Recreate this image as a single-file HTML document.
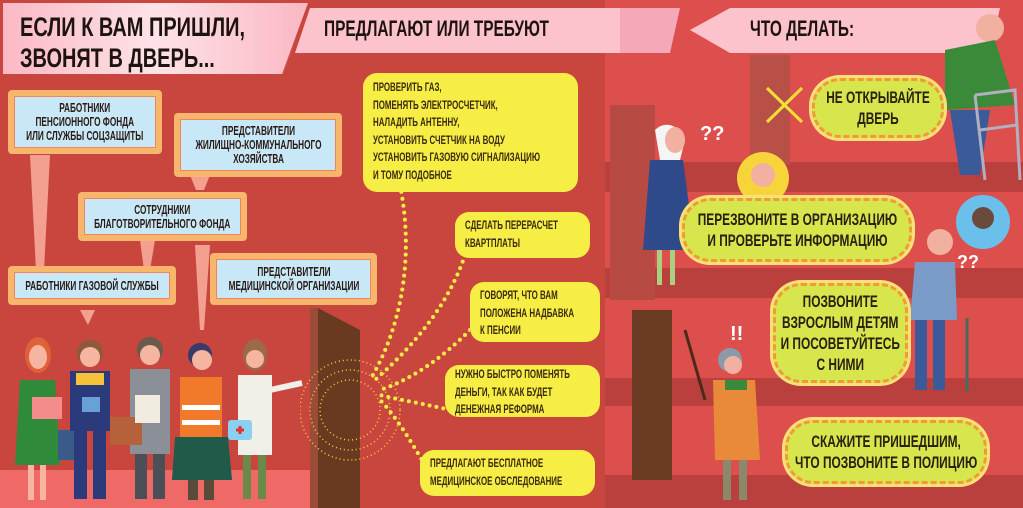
<!DOCTYPE html>
<html><head><meta charset="utf-8"><style>
*{margin:0;padding:0;box-sizing:border-box}
body{width:1023px;height:508px;overflow:hidden;background:#c9463f;position:relative;font-family:"Liberation Sans",sans-serif;font-weight:bold;color:#2a1a14}
.a{position:absolute}
.t{display:inline-block;white-space:nowrap;transform:scaleX(.66)}
.c{transform-origin:center}
.l{transform-origin:left}
.frame{position:absolute;background:#f8b56c;border-radius:4px;padding:6px}
.frame .in{background:#c8e8f8;border:1px solid #f0845a;height:100%;display:flex;align-items:center;justify-content:center;text-align:center;font-size:12.5px;line-height:14px;color:#2a1a14;font-weight:bold}
.yb{position:absolute;background:#f7ee45;border-radius:14px;font-size:12px;line-height:17.5px;padding:6px 10px;color:#3a2a10;font-weight:bold}
.sp{position:absolute;background:#d6e64c;border:3px dashed #f29a3a;border-radius:28px;display:flex;align-items:center;justify-content:center;text-align:center;font-size:17px;line-height:21px;color:#2a2010;box-shadow:0 0 0 3px #fbe07a;font-weight:bold}
.sp .t{transform:scaleX(.7)}
</style></head><body>
<div class="a" style="left:605px;top:0;width:418px;height:508px;background:#dc4f4c"></div>
<div class="a" style="left:605px;top:162px;width:418px;height:30px;background:#b9403d"></div>
<div class="a" style="left:605px;top:268px;width:418px;height:30px;background:#b9403d"></div>
<div class="a" style="left:605px;top:378px;width:418px;height:28px;background:#b9403d"></div>
<div class="a" style="left:605px;top:475px;width:418px;height:33px;background:#b9403d"></div>
<div class="a" style="left:750px;top:55px;width:40px;height:110px;background:#b85048"></div>
<div class="a" style="left:610px;top:105px;width:45px;height:195px;background:#b84a44"></div>
<div class="a" style="left:632px;top:310px;width:40px;height:170px;background:#6b3a22"></div>
<div class="a" style="left:0;top:470px;width:310px;height:38px;background:#ef6a66"></div>
<svg class="a" style="left:300px;top:300px" width="110" height="208"><polygon points="18,8 60,30 60,208 18,208" fill="#6a3a20"/><polygon points="10,8 18,8 18,208 10,208" fill="#9a4c38"/>
<g stroke="#f5d23a" stroke-width="1.5" stroke-dasharray="1 3" fill="none"><circle cx="50" cy="110" r="30"/><circle cx="50" cy="110" r="40"/><circle cx="50" cy="110" r="50"/></g></svg>
<svg class="a" style="left:0;top:0" width="1023" height="80"><polygon points="3,3 308,3 282,74 3,74" fill="#fbb8c4"/><polygon points="310,8 670,8 670,53 295,53" fill="#fcc3cc"/><polygon points="730,8 1000,8 990,53 730,53 690,30" fill="#fcc3cc"/><polygon points="620,8 680,8 670,53 620,53" fill="#f5a9b8"/></svg>
<div class="a" style="left:0;top:0;width:308px;height:74px;background:linear-gradient(90deg,rgba(255,255,255,0) 0,rgba(255,255,255,.6) 50%,rgba(255,255,255,0) 100%);clip-path:polygon(1% 4%,100% 4%,92% 100%,1% 100%)"></div>
<div class="a" style="left:20px;top:12px;font-size:27px;line-height:31px;color:#1e140f"><span class="t l" style="transform:scaleX(.74)">ЕСЛИ К ВАМ ПРИШЛИ,<br>ЗВОНЯТ В ДВЕРЬ...</span></div>
<div class="a" style="left:324px;top:16px;font-size:22px;color:#1e140f"><span class="t l" style="transform:scaleX(.7)">ПРЕДЛАГАЮТ ИЛИ ТРЕБУЮТ</span></div>
<div class="a" style="left:750px;top:16px;font-size:22px;color:#1e140f"><span class="t l" style="transform:scaleX(.7)">ЧТО ДЕЛАТЬ:</span></div>
<svg class="a" style="left:0;top:150px" width="420" height="180"><g fill="#f4a090"><polygon points="30,5 50,5 44,120 36,120"/><polygon points="190,25 210,25 204,40 196,40"/><polygon points="140,90 155,90 150,120 144,120"/><polygon points="195,95 210,95 204,180 200,180"/><polygon points="80,160 95,160 88,175"/></g></svg>
<div class="frame" style="left:8px;top:90px;width:154px;height:64px"><div class="in"><span class="t c">РАБОТНИКИ<br>ПЕНСИОННОГО ФОНДА<br>ИЛИ СЛУЖБЫ СОЦЗАЩИТЫ</span></div></div>
<div class="frame" style="left:174px;top:113px;width:168px;height:64px"><div class="in"><span class="t c">ПРЕДСТАВИТЕЛИ<br>ЖИЛИЩНО-КОММУНАЛЬНОГО<br>ХОЗЯЙСТВА</span></div></div>
<div class="frame" style="left:78px;top:192px;width:169px;height:49px"><div class="in"><span class="t c">СОТРУДНИКИ<br>БЛАГОТВОРИТЕЛЬНОГО ФОНДА</span></div></div>
<div class="frame" style="left:8px;top:266px;width:168px;height:39px"><div class="in"><span class="t c">РАБОТНИКИ ГАЗОВОЙ СЛУЖБЫ</span></div></div>
<div class="frame" style="left:210px;top:253px;width:167px;height:52px"><div class="in"><span class="t c">ПРЕДСТАВИТЕЛИ<br>МЕДИЦИНСКОЙ ОРГАНИЗАЦИИ</span></div></div>
<svg class="a" style="left:340px;top:180px" width="130" height="300"><g stroke="#f7ee45" stroke-width="4" stroke-linecap="round" stroke-dasharray="0 7" fill="none"><path d="M60,5 C75,80 60,150 30,200"/><path d="M125,75 C110,120 80,160 35,200"/><path d="M130,150 C100,180 70,200 40,210"/><path d="M110,230 C90,225 60,220 40,215"/><path d="M85,285 C70,260 55,235 40,220"/></g></svg>
<div class="yb" style="left:363px;top:73px;width:215px;height:119px"><span class="t l">ПРОВЕРИТЬ ГАЗ,<br>ПОМЕНЯТЬ ЭЛЕКТРОСЧЕТЧИК,<br>НАЛАДИТЬ АНТЕННУ,<br>УСТАНОВИТЬ СЧЕТЧИК НА ВОДУ<br>УСТАНОВИТЬ ГАЗОВУЮ СИГНАЛИЗАЦИЮ<br>И ТОМУ ПОДОБНОЕ</span></div>
<div class="yb" style="left:455px;top:212px;width:135px;height:46px;padding-top:5px"><span class="t l">СДЕЛАТЬ ПЕРЕРАСЧЕТ<br>КВАРТПЛАТЫ</span></div>
<div class="yb" style="left:470px;top:282px;width:130px;height:60px;padding-top:5px"><span class="t l">ГОВОРЯТ, ЧТО ВАМ<br>ПОЛОЖЕНА НАДБАВКА<br>К ПЕНСИИ</span></div>
<div class="yb" style="left:445px;top:365px;width:155px;height:52px;padding-top:1px"><span class="t l">НУЖНО БЫСТРО ПОМЕНЯТЬ<br>ДЕНЬГИ, ТАК КАК БУДЕТ<br>ДЕНЕЖНАЯ РЕФОРМА</span></div>
<div class="yb" style="left:420px;top:450px;width:175px;height:46px;padding-top:5px"><span class="t l">ПРЕДЛАГАЮТ БЕСПЛАТНОЕ<br>МЕДИЦИНСКОЕ ОБСЛЕДОВАНИЕ</span></div>
<svg class="a" style="left:10px;top:335px" width="300" height="170">
<g><ellipse cx="28" cy="20" rx="13" ry="18" fill="#e0603a"/><ellipse cx="28" cy="22" rx="9" ry="12" fill="#f6b5a0"/><path d="M10,45 L45,45 L50,130 L5,130Z" fill="#2f8a3a"/><rect x="18" y="130" width="6" height="35" fill="#f6b5a0"/><rect x="30" y="130" width="6" height="35" fill="#f6b5a0"/><rect x="22" y="62" width="30" height="22" fill="#f48c8c"/><rect x="48" y="95" width="28" height="30" fill="#3a5a8a"/></g>
<g><circle cx="80" cy="18" r="13" fill="#8a5a3a"/><circle cx="80" cy="22" r="10" fill="#f6b5a0"/><rect x="60" y="36" width="40" height="60" fill="#2a3a7a"/><rect x="66" y="38" width="28" height="12" fill="#f5c23a"/><rect x="64" y="96" width="13" height="68" fill="#2a3a7a"/><rect x="83" y="96" width="13" height="68" fill="#2a3a7a"/><rect x="72" y="62" width="18" height="15" fill="#6aa0d8"/></g>
<g><circle cx="140" cy="15" r="13" fill="#6a5a4a"/><circle cx="140" cy="20" r="10" fill="#f6b5a0"/><rect x="120" y="34" width="40" height="85" fill="#8a8f98"/><rect x="125" y="119" width="12" height="45" fill="#4a4f58"/><rect x="143" y="119" width="12" height="45" fill="#4a4f58"/><rect x="100" y="82" width="32" height="28" fill="#b5623a"/><rect x="125" y="60" width="25" height="28" fill="#f0ece0"/></g>
<g><circle cx="190" cy="20" r="12" fill="#3a3a6a"/><circle cx="192" cy="25" r="10" fill="#f6b5a0"/><rect x="170" y="42" width="42" height="60" fill="#f07a2a"/><rect x="172" y="70" width="38" height="5" fill="#fff"/><rect x="172" y="85" width="38" height="5" fill="#fff"/><path d="M165,102 L218,102 L222,145 L162,145Z" fill="#1f5a4a"/><rect x="178" y="145" width="10" height="20" fill="#5a4a3a"/><rect x="194" y="145" width="10" height="20" fill="#5a4a3a"/></g>
<g><ellipse cx="245" cy="20" rx="12" ry="16" fill="#9a6a4a"/><circle cx="245" cy="24" r="9" fill="#f6b5a0"/><rect x="228" y="40" width="34" height="80" fill="#f0f0e8"/><line x1="260" y1="55" x2="292" y2="48" stroke="#f0f0e8" stroke-width="6"/><rect x="233" y="120" width="8" height="44" fill="#6a8a4a"/><rect x="248" y="120" width="8" height="44" fill="#6a8a4a"/><rect x="218" y="85" width="24" height="20" rx="3" fill="#8ad0f0"/><path d="M226,95h8M230,91v8" stroke="#e03030" stroke-width="3"/></g>
</svg>
<svg class="a" style="left:605px;top:0" width="418" height="508">
<path d="M162,88 L197,122 M197,88 L162,122" stroke="#f5e03a" stroke-width="3"/>
<g><circle cx="385" cy="28" r="14" fill="#f2b0a0"/><path d="M340,50 L390,40 L410,105 L340,110Z" fill="#3a8a3a"/><path d="M345,110 L385,110 L375,175 L355,175Z" fill="#3a5a9a"/><path d="M370,95 L410,90 L415,180 M370,95 L380,180 M375,130 L412,125" stroke="#b0b0c0" stroke-width="3" fill="none"/></g>
<g><path d="M50,130 C60,120 75,125 80,140 L75,160 L55,160Z" fill="#f5f5f5"/><ellipse cx="70" cy="140" rx="10" ry="13" fill="#f2b0a0"/><path d="M45,160 L78,160 L90,250 L38,250Z" fill="#2f4a8a"/><rect x="52" y="250" width="5" height="35" fill="#a8d080"/><rect x="65" y="250" width="5" height="35" fill="#a8d080"/><text x="95" y="140" font-size="20" fill="#fff" font-family="Liberation Sans">??</text></g>
<circle cx="158" cy="178" r="26" fill="#f7d53a"/><circle cx="158" cy="175" r="12" fill="#f2b0a0"/>
<circle cx="378" cy="222" r="27" fill="#6ac0ea"/><circle cx="378" cy="218" r="11" fill="#6a4a3a"/>
<g><circle cx="335" cy="242" r="13" fill="#f2b0a0"/><path d="M310,262 L350,262 L352,320 L305,320Z" fill="#7a9ac8"/><rect x="310" y="320" width="12" height="70" fill="#3a5a9a"/><rect x="328" y="320" width="12" height="70" fill="#3a5a9a"/><path d="M362,318 L362,392" stroke="#4a6a5a" stroke-width="3"/><text x="352" y="268" font-size="18" fill="#fff" font-family="Liberation Sans">??</text></g>
<g><circle cx="125" cy="360" r="12" fill="#8a9aa8"/><circle cx="128" cy="365" r="9" fill="#f2b0a0"/><path d="M108,380 L150,380 L155,460 L110,460Z" fill="#e88a3a"/><rect x="120" y="380" width="22" height="10" fill="#3a8a3a"/><rect x="118" y="460" width="8" height="40" fill="#8a8a6a"/><rect x="134" y="460" width="8" height="40" fill="#8a8a6a"/><path d="M80,330 L100,400" stroke="#4a2a1a" stroke-width="3"/><text x="125" y="340" font-size="20" fill="#fff" font-family="Liberation Sans">!!</text></g>
</svg>
<div class="sp" style="left:812px;top:78px;width:132px;height:60px"><span class="t c">НЕ ОТКРЫВАЙТЕ<br>ДВЕРЬ</span></div>
<div class="sp" style="left:682px;top:198px;width:230px;height:64px"><span class="t c">ПЕРЕЗВОНИТЕ В ОРГАНИЗАЦИЮ<br>И ПРОВЕРЬТЕ ИНФОРМАЦИЮ</span></div>
<div class="sp" style="left:773px;top:283px;width:135px;height:100px"><span class="t c">ПОЗВОНИТЕ<br>ВЗРОСЛЫМ ДЕТЯМ<br>И ПОСОВЕТУЙТЕСЬ<br>С НИМИ</span></div>
<div class="sp" style="left:785px;top:420px;width:202px;height:64px"><span class="t c">СКАЖИТЕ ПРИШЕДШИМ,<br>ЧТО ПОЗВОНИТЕ В ПОЛИЦИЮ</span></div>
</body></html>
